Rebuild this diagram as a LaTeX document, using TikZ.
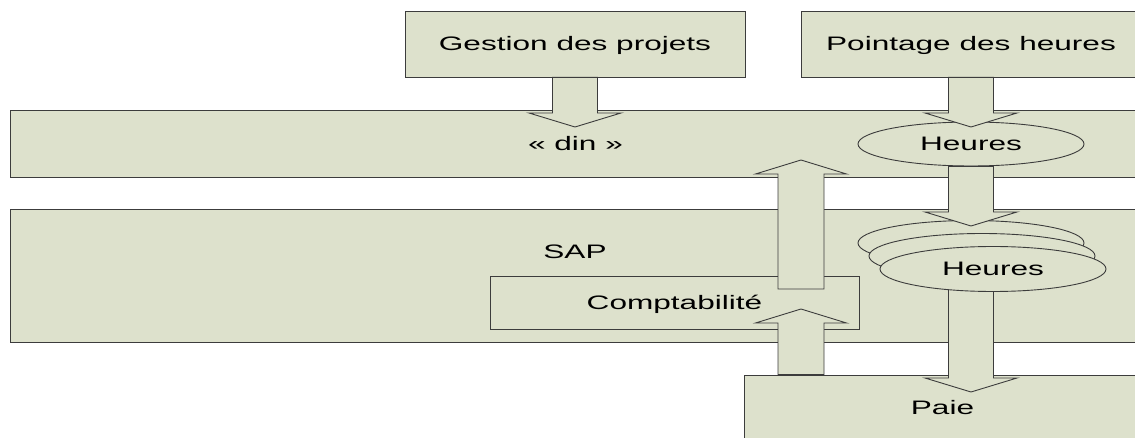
\documentclass[tikz,border=0pt]{standalone}
\usepackage{fontspec}
\setmainfont{Liberation Sans}[FakeStretch=1.62]
\usetikzlibrary{calc,shapes.geometric}
\definecolor{fond}{RGB}{221,225,204}
\definecolor{trait}{RGB}{60,60,60}
\begin{document}
\begin{tikzpicture}[x=1pt,y=-1pt,
	texte/.style={font=\fontsize{19.5pt}{23pt}\selectfont,text height=14pt,text depth=0pt},
	boite/.style={texte,draw=trait,fill=fond,line width=0.9pt,rectangle,inner sep=0pt},
	bulle/.style={texte,draw=trait,fill=fond,line width=0.9pt,ellipse,inner sep=0pt,minimum width=226pt,minimum height=45pt},
	bas/.style={draw=trait,fill=fond,line width=0.9pt,to path={let \p1=(\tikztostart),\p2=(\tikztotarget) in
		(\x1-22.5pt,\y1) -- (\x1-22.5pt,\y2+14pt) -- (\x1-46pt,\y2+14pt) -- (\x1,\y2) -- (\x1+46pt,\y2+14pt) -- (\x1+22.5pt,\y2+14pt) -- (\x1+22.5pt,\y1) -- cycle}},
	haut/.style={draw=trait,fill=fond,line width=0.9pt,to path={let \p1=(\tikztostart),\p2=(\tikztotarget) in
		(\x1-23pt,\y1) -- (\x1-23pt,\y2-14pt) -- (\x1-45.5pt,\y2-14pt) -- (\x1,\y2) -- (\x1+45.5pt,\y2-14pt) -- (\x1+23pt,\y2-14pt) -- (\x1+23pt,\y1) -- cycle}}]
	\useasboundingbox (0,0) rectangle (1135,438);
	\clip (0,0) rectangle (1135,438);
	\node[boite,minimum width=340pt,minimum height=66pt] (gestion) at (575,44) {Gestion des projets};
	\node[boite,minimum width=340pt,minimum height=66pt] (pointage) at (971,44) {Pointage des heures};
	\node[boite,minimum width=1131pt,minimum height=67pt] (din) at (575.5,143.5) {« din »};
	\node[boite,minimum width=1131pt,minimum height=133pt] (sap) at (575.5,275.5) {};
	\node[texte] (saptexte) at (575,252) {SAP};
	\node[boite,minimum width=369pt,minimum height=53pt] (compta) at (674.5,302.5) {Comptabilité};
	\node[boite,minimum width=397pt,minimum height=64pt] (paie) at (942.5,407) {Paie};
	\node[bulle,minimum height=44pt] (heures) at (971,144) {Heures};
	\coordinate (f1) at (575,127);
	\coordinate (f2) at (971,127);
	\coordinate (f3) at (971,226);
	\coordinate (f4) at (971,392);
	\coordinate (f5) at (801,309);
	\coordinate (d6) at (801,289);
	\coordinate (f6) at (801,160);
	\draw[bas] (heures.center |- 0,270) to (f4);
	\node[bulle] (pile1) at (971,243) {};
	\node[bulle] (pile2) at (982,256) {};
	\node[bulle] (pile3) at (993,269) {Heures};
	\draw[bas] (gestion.south) to (f1);
	\draw[bas] (pointage.south) to (f2);
	\draw[bas] (heures.south) to (f3);
	\draw[haut] (paie.north -| f5) to (f5);
	\draw[haut] (d6) to (f6);
\end{tikzpicture}
\end{document}
